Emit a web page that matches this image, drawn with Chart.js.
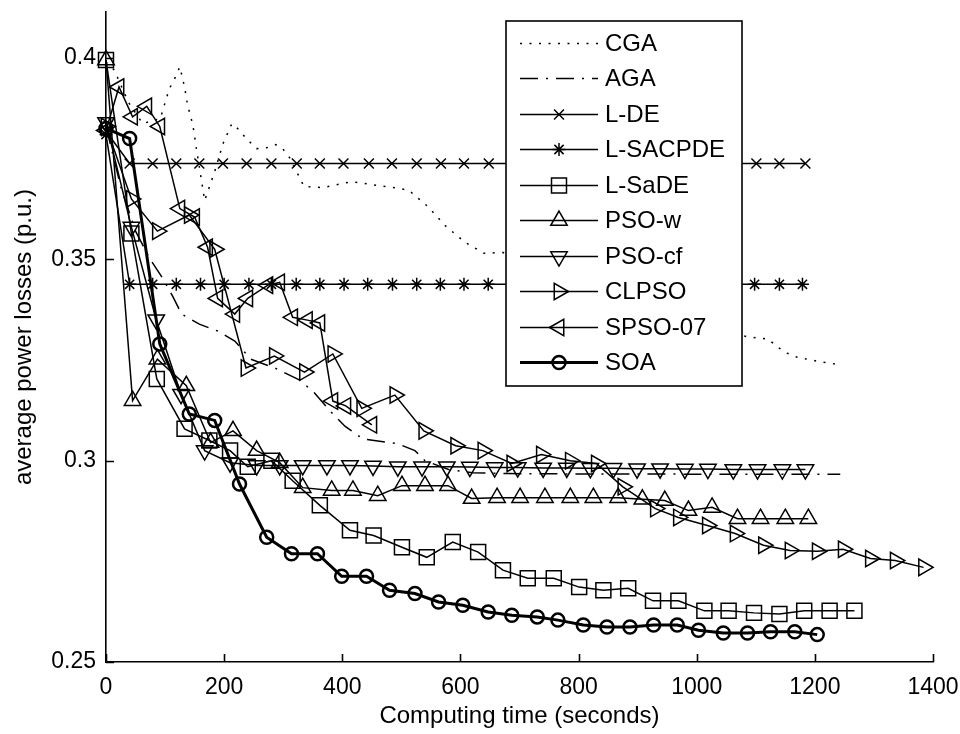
<!DOCTYPE html>
<html>
<head>
<meta charset="utf-8">
<script src="https://cdn.jsdelivr.net/npm/chart.js@4.4.1/dist/chart.umd.min.js"></script>
<style>
  html, body { margin: 0; padding: 0; background: #fff; }
  #wrap { width: 960px; height: 734px; }
</style>
</head>
<body>
<div id="wrap"><canvas id="c" width="960" height="734"></canvas></div>
<script>
// ---- axis ticks ----
const xTickValues = [0, 200, 400, 600, 800, 1000, 1200, 1400];
const xTickLabels = ['0', '200', '400', '600', '800', '1000', '1200', '1400'];
const yTickValues = [0.25, 0.3, 0.35, 0.4];
const yTickLabels = ['0.25', '0.3', '0.35', '0.4'];

// ---- series: computing time (s) and average power losses (p.u.) ----
const cgaTime = [0, 14, 38, 62, 92, 107, 116, 125, 133, 138, 147, 153, 162, 167, 184, 198, 213, 225, 238, 255, 272, 287, 299, 311, 320, 328, 335, 367, 416, 448, 497, 513, 545, 574, 608, 640, 672, 760, 860, 960, 1040, 1087, 1121, 1137, 1153, 1170, 1204, 1235];
const cgaLoss = [0.399, 0.397, 0.389, 0.3837, 0.385, 0.3923, 0.3948, 0.3978, 0.3928, 0.3884, 0.3834, 0.3775, 0.3693, 0.3646, 0.3718, 0.3787, 0.3837, 0.3822, 0.3799, 0.3775, 0.3777, 0.3785, 0.3775, 0.3752, 0.3725, 0.3703, 0.3681, 0.3678, 0.3693, 0.3686, 0.3676, 0.3671, 0.3631, 0.3584, 0.3542, 0.3515, 0.3517, 0.3462, 0.3405, 0.3355, 0.3325, 0.3307, 0.3302, 0.3282, 0.3267, 0.3257, 0.3247, 0.324];

const agaTime = [0, 25, 50, 74, 95, 113, 128, 158, 189, 218, 245, 286, 328, 353, 379, 405, 435, 494, 523, 540, 580, 620, 680, 800, 920, 1040, 1160, 1243];
const agaLoss = [0.383, 0.368, 0.357, 0.3502, 0.3455, 0.3408, 0.3364, 0.3339, 0.3322, 0.3297, 0.3252, 0.323, 0.32, 0.3168, 0.3124, 0.3085, 0.3054, 0.3042, 0.3025, 0.3, 0.2978, 0.297, 0.2968, 0.2967, 0.2967, 0.2966, 0.2966, 0.2966];

const ldeTime = [0, 40, 79, 119, 158, 198, 238, 280, 323, 362, 402, 445, 484, 526, 567, 606, 648, 689, 730, 771, 812, 853, 894, 935, 975, 1016, 1057, 1101, 1140, 1184];
const ldeLoss = [0.3818, 0.3738, 0.3738, 0.3738, 0.3738, 0.3738, 0.3738, 0.3738, 0.3738, 0.3738, 0.3738, 0.3738, 0.3738, 0.3738, 0.3738, 0.3738, 0.3738, 0.3738, 0.3738, 0.3738, 0.3738, 0.3738, 0.3738, 0.3738, 0.3738, 0.3738, 0.3738, 0.3738, 0.3738, 0.3738];

const lsacpdeTime = [0, 40, 79, 119, 160, 200, 242, 280, 322, 362, 403, 443, 485, 526, 566, 606, 647, 688, 729, 770, 811, 852, 893, 934, 975, 1016, 1057, 1098, 1140, 1179];
const lsacpdeLoss = [0.381, 0.3438, 0.3438, 0.3438, 0.3438, 0.3438, 0.3438, 0.3438, 0.3438, 0.3438, 0.3438, 0.3438, 0.3438, 0.3438, 0.3438, 0.3438, 0.3438, 0.3438, 0.3438, 0.3438, 0.3438, 0.3438, 0.3438, 0.3438, 0.3438, 0.3438, 0.3438, 0.3438, 0.3438, 0.3438];

const lsadeTime = [0, 43, 86, 133, 175, 210, 240, 280, 316, 362, 413, 453, 501, 543, 587, 630, 672, 714, 758, 801, 842, 884, 926, 969, 1013, 1054, 1097, 1140, 1182, 1225, 1267];
const lsadeLoss = [0.3995, 0.3564, 0.3203, 0.3079, 0.305, 0.3025, 0.2985, 0.3, 0.295, 0.2889, 0.2827, 0.2814, 0.2785, 0.276, 0.2798, 0.2773, 0.2728, 0.2708, 0.2708, 0.2686, 0.2678, 0.2683, 0.2652, 0.2652, 0.2627, 0.2627, 0.2622, 0.2619, 0.2627, 0.2627, 0.2627];

const psowTime = [0, 45, 87, 136, 177, 215, 255, 294, 333, 382, 418, 460, 501, 540, 579, 619, 662, 701, 743, 786, 825, 867, 908, 946, 986, 1026, 1069, 1108, 1150, 1189];
const psowLoss = [0.3995, 0.3149, 0.3252, 0.3186, 0.3045, 0.3074, 0.3025, 0.2995, 0.2933, 0.2926, 0.2926, 0.2913, 0.2938, 0.2938, 0.2938, 0.2906, 0.2908, 0.2908, 0.2908, 0.2908, 0.2908, 0.2908, 0.2904, 0.2901, 0.2876, 0.2884, 0.2856, 0.2856, 0.2856, 0.2856];

const psocfTime = [0, 43, 85, 127, 167, 210, 255, 294, 333, 374, 413, 452, 494, 535, 577, 616, 658, 697, 740, 780, 820, 859, 899, 938, 980, 1019, 1062, 1103, 1145, 1184];
const psocfLoss = [0.384, 0.358, 0.335, 0.3165, 0.3025, 0.2995, 0.2988, 0.2988, 0.2988, 0.2988, 0.2988, 0.2987, 0.2985, 0.2985, 0.2985, 0.2984, 0.2983, 0.2983, 0.2982, 0.2982, 0.2981, 0.2981, 0.298, 0.298, 0.2979, 0.2979, 0.2978, 0.2978, 0.2978, 0.2978];

const clpsoTime = [0, 43, 87, 141, 184, 237, 285, 336, 384, 433, 489, 538, 592, 638, 687, 737, 786, 830, 875, 930, 969, 1018, 1065, 1113, 1158, 1204, 1248, 1294, 1336, 1384];
const clpsoLoss = [0.383, 0.365, 0.357, 0.361, 0.3525, 0.323, 0.326, 0.322, 0.3265, 0.313, 0.3163, 0.3074, 0.3037, 0.3025, 0.2993, 0.3015, 0.3, 0.2993, 0.2935, 0.2881, 0.2859, 0.2839, 0.2819, 0.279, 0.2777, 0.2775, 0.278, 0.2757, 0.2752, 0.2735];

const spsoTime = [0, 22, 45, 69, 91, 125, 150, 172, 189, 218, 240, 274, 294, 316, 341, 362, 384, 406, 450];
const spsoLoss = [0.382, 0.3928, 0.3854, 0.388, 0.383, 0.3626, 0.3605, 0.353, 0.3403, 0.3364, 0.3403, 0.3436, 0.3443, 0.3356, 0.3349, 0.3342, 0.3148, 0.3136, 0.3089];

const soaTime = [0, 40, 91, 141, 184, 226, 272, 314, 358, 399, 441, 480, 523, 563, 604, 647, 687, 730, 765, 808, 848, 887, 927, 967, 1003, 1045, 1086, 1125, 1166, 1204];
const soaLoss = [0.3825, 0.38, 0.329, 0.3116, 0.31, 0.2942, 0.281, 0.2769, 0.2769, 0.2713, 0.2713, 0.2678, 0.267, 0.2649, 0.2641, 0.2624, 0.2616, 0.2612, 0.2604, 0.2592, 0.2587, 0.2587, 0.2592, 0.2592, 0.2579, 0.2572, 0.2572, 0.2575, 0.2575, 0.2568];

// ---- styling per algorithm (MATLAB-like markers, all black) ----
const series = [
  { label: 'CGA',      t: cgaTime,     v: cgaLoss,     dash: [2, 7.5],        width: 1.5, style: false },
  { label: 'AGA',      t: agaTime,     v: agaLoss,     dash: [18, 8, 2, 8],   width: 1.5, style: false },
  { label: 'L-DE',     t: ldeTime,     v: ldeLoss,     dash: [], width: 1.5, style: 'crossRot', r: 7,    rot: 0 },
  { label: 'L-SACPDE', t: lsacpdeTime, v: lsacpdeLoss, dash: [], width: 1.5, style: 'star',     r: 6.5,  rot: 0 },
  { label: 'L-SaDE',   t: lsadeTime,   v: lsadeLoss,   dash: [], width: 1.5, style: 'rect',     r: 10.6, rot: 0 },
  { label: 'PSO-w',    t: psowTime,    v: psowLoss,    dash: [], width: 1.5, style: 'triangle', r: 9.5,  rot: 0 },
  { label: 'PSO-cf',   t: psocfTime,   v: psocfLoss,   dash: [], width: 1.5, style: 'triangle', r: 9.5,  rot: 180 },
  { label: 'CLPSO',    t: clpsoTime,   v: clpsoLoss,   dash: [], width: 1.5, style: 'triangle', r: 9.5,  rot: 90 },
  { label: 'SPSO-07',  t: spsoTime,    v: spsoLoss,    dash: [], width: 1.5, style: 'triangle', r: 9.5,  rot: 270 },
  { label: 'SOA',      t: soaTime,     v: soaLoss,     dash: [], width: 3,   style: 'circle',   r: 6.5,  rot: 0, pw: 2.5 }
];

const FONT = '"Liberation Sans", Arial, Helvetica, sans-serif';

const datasets = series.map((s, i) => ({
  label: s.label,
  data: s.t.map((x, k) => ({ x: x, y: s.v[k] })),
  borderColor: '#000',
  borderWidth: s.width,
  borderDash: s.dash,
  tension: 0,
  fill: false,
  clip: false,
  order: series.length - i,
  pointStyle: s.style || 'circle',
  pointRadius: s.style ? s.r : 0,
  pointHoverRadius: s.style ? s.r : 0,
  pointRotation: s.rot || 0,
  pointBorderWidth: s.pw || 1.5,
  pointBorderColor: '#000',
  pointBackgroundColor: 'rgba(0,0,0,0)'
}));

// inward tick marks on the two drawn axes
const innerTicks = {
  id: 'innerTicks',
  afterDatasetsDraw(chart) {
    const { ctx, chartArea: a, scales: { x, y } } = chart;
    ctx.save();
    ctx.strokeStyle = '#000';
    ctx.lineWidth = 1.6;
    ctx.setLineDash([]);
    ctx.beginPath();
    xTickValues.forEach(v => {
      const px = Math.round(x.getPixelForValue(v)) + 0.5;
      ctx.moveTo(px, a.bottom);
      ctx.lineTo(px, a.bottom - 8);
    });
    yTickValues.forEach(v => {
      const py = Math.round(y.getPixelForValue(v)) + 0.5;
      ctx.moveTo(a.left, py);
      ctx.lineTo(a.left + 8, py);
    });
    ctx.stroke();
    ctx.restore();
  }
};

// boxed legend drawn over the plot
function drawMarker(ctx, style, r, rot, x, y) {
  if (Chart.helpers && Chart.helpers.drawPoint) {
    Chart.helpers.drawPoint(ctx, { pointStyle: style, radius: r, rotation: rot, borderWidth: ctx.lineWidth }, x, y);
    return;
  }
  ctx.beginPath();
  ctx.arc(x, y, r, 0, Math.PI * 2);
  ctx.stroke();
}

const legendBox = {
  id: 'legendBox',
  afterDatasetsDraw(chart) {
    const ctx = chart.ctx;
    const L = 506, T = 21, R = 742, B = 386;
    ctx.save();
    ctx.setLineDash([]);
    ctx.fillStyle = '#fff';
    ctx.fillRect(L, T, R - L, B - T);
    ctx.strokeStyle = '#000';
    ctx.lineWidth = 1.6;
    ctx.strokeRect(L, T, R - L, B - T);
    series.forEach((s, i) => {
      const cy = Math.round(42.5 + i * 35.5) + 0.5;
      ctx.strokeStyle = '#000';
      ctx.lineWidth = s.width;
      ctx.setLineDash(s.dash);
      ctx.beginPath();
      ctx.moveTo(520, cy);
      ctx.lineTo(598, cy);
      ctx.stroke();
      ctx.setLineDash([]);
      if (s.style) {
        ctx.lineWidth = s.pw || 1.5;
        ctx.fillStyle = 'rgba(0,0,0,0)';
        drawMarker(ctx, s.style, s.r, s.rot || 0, 559, cy);
      }
      ctx.fillStyle = '#000';
      ctx.font = '24px ' + FONT;
      ctx.textBaseline = 'middle';
      ctx.textAlign = 'left';
      ctx.fillText(s.label, 605, cy + 1);
    });
    ctx.restore();
  }
};

Chart.defaults.font.family = FONT;
Chart.defaults.color = '#000';

new Chart(document.getElementById('c').getContext('2d'), {
  type: 'line',
  data: { datasets: datasets },
  options: {
    responsive: false,
    animation: false,
    devicePixelRatio: 1,
    layout: { padding: { left: 0, right: 27, top: 10, bottom: 0 } },
    plugins: { legend: { display: false }, tooltip: { enabled: false } },
    scales: {
      x: {
        type: 'linear',
        min: 0,
        max: 1400,
        afterBuildTicks: s => { s.ticks = xTickValues.map(v => ({ value: v })); },
        ticks: {
          callback: (v, i) => xTickLabels[i],
          color: '#000',
          font: { size: 23 },
          padding: 12,
          maxRotation: 0,
          autoSkip: false
        },
        grid: { display: false, drawTicks: false },
        border: { display: true, color: '#000', width: 1.6 },
        title: { display: true, text: 'Computing time (seconds)', color: '#000', font: { size: 24 }, padding: { top: 0, bottom: 3 } },
        afterFit: s => { s.height = 72; s.paddingLeft = 0; s.paddingRight = 0; }
      },
      y: {
        type: 'linear',
        min: 0.25,
        max: 0.4114,
        afterBuildTicks: s => { s.ticks = yTickValues.map(v => ({ value: v })); },
        ticks: {
          callback: (v, i) => yTickLabels[i],
          color: '#000',
          font: { size: 23 },
          padding: 10,
          autoSkip: false
        },
        grid: { display: false, drawTicks: false },
        border: { display: true, color: '#000', width: 1.6 },
        title: { display: true, text: 'average power losses (p.u.)', color: '#000', font: { size: 24 }, padding: { top: 10, bottom: 0 } },
        afterFit: s => { s.width = 106; s.paddingTop = 0; s.paddingBottom = 0; }
      }
    }
  },
  plugins: [innerTicks, legendBox]
});
</script>
</body>
</html>
